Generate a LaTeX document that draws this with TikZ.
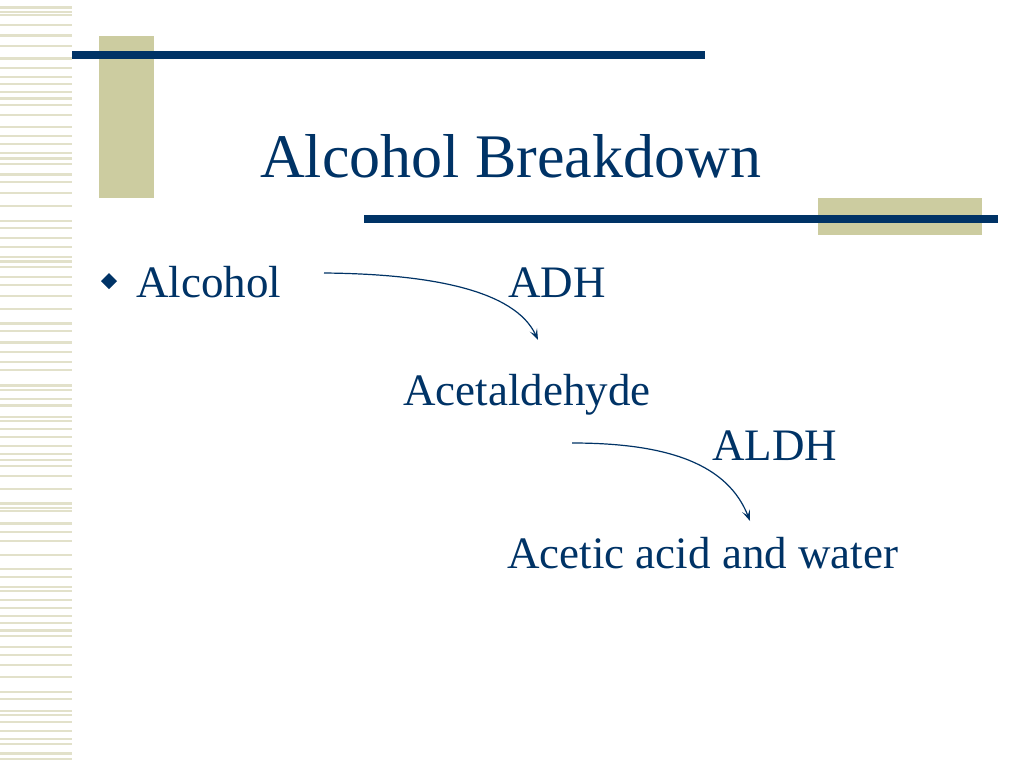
\documentclass[tikz,border=0pt]{standalone}
\usepackage{fontspec}
\setmainfont{Liberation Serif}
\usetikzlibrary{arrows.meta}
\definecolor{navy}{RGB}{0,51,102}
\definecolor{khaki}{RGB}{204,204,160}
\definecolor{stripe}{RGB}{226,225,202}
\tikzset{
        % text of the slide, set at its left end on the baseline
        txt/.style={anchor=base west, inner sep=0pt, text=navy, font=\fontsize{45}{54}\selectfont},
        arr/.style={draw=navy, line width=1.2, -{Stealth[length=11pt,width=8pt,inset=5pt]}},
    }
\begin{document}
\begin{tikzpicture}[x=1pt,y=1pt,yscale=-1]
\useasboundingbox (0,0) rectangle (1024,768);
\fill[white] (0,0) rectangle (1024,768);

%Shape: left stripes
\foreach \y/\w in {7.5/3,12/1.5,15/1.5,25/1.5,35.5/3,46/1.5,58.5/3,68/1.5,76.5/2,84/1.5,92/1.5,98.5/3,105/1.5,115/1.5,127/1.5,136/2.5,144/1.5,153/1.5,158.5/3,164/1.5,174.5/3,182/1.5,193/1.5,206/1.5,221/2.5,228/1.5,238/1.5,247/1.5,257/1.5,261.5/3,267/1.5,277/2.5,285/1.5,296/1.5,309/1.5,323.5/2.5,331/1.5,342.5/2.5,352/1.5,362/1.5,370/1.5,385.5/3,390/1.5,399/2.5,405.5/3,417/1.5,421/1.5,429/1.5,437/1.5,446/1.5,454/1.5,460/2.5,466/1.5,476/1.5,489/1.5,503.5/3,508/1.5,511/1.5,523.5/3,532/1.5,541/1.5,555/1.5,569/2.5,577/1.5,587/1.5,591/1.5,600/1.5,608/1.5,616/1.5,623/1.5,630.5/3,636/1.5,646.5/2,655/1.5,665/1.5,677/1.5,692/2.5,699/1.5,711/1.5,715/1.5,722/1.5,731/1.5,739/1.5,744/1.5,753.5/3,759/1.5}
    \fill[stripe] (0,\y-\w/2) rectangle (72,\y+\w/2);

%Shape: Rectangles and bars
\fill[khaki] (99,36) rectangle (154,198);
\fill[navy] (72,51) rectangle (705,59);
\fill[khaki] (818,198) rectangle (982,235);
\fill[navy] (364,215) rectangle (998,223);

% Text Node
\node[txt, font=\fontsize{62}{74}\selectfont] (title) at (260,177) {Alcohol Breakdown};
% bullet
\fill[navy] (109,273) -- (117,281) -- (109,289) -- (101,281) -- cycle;
% Text Node
\node[txt] (alcohol) at (136,297) {Alcohol};
% Text Node
\node[txt] (adh) at (508,297) {ADH};
% Text Node
\node[txt] (acetal) at (403,405) {Acetaldehyde};
% Text Node
\node[txt] (aldh) at (712,460) {ALDH};
% Text Node
\node[txt] (acetic) at (507,568) {Acetic acid and water};

%Curve Lines
\coordinate (s1) at (324,273);
\coordinate (e1) at (538,340);
\draw[arr] (s1) .. controls (430,274) and (515,290) .. (e1);
%Curve Lines
\coordinate (s2) at (572,443);
\coordinate (e2) at (750,521);
\draw[arr] (s2) .. controls (670,443) and (728,465) .. (e2);

\end{tikzpicture}
\end{document}
